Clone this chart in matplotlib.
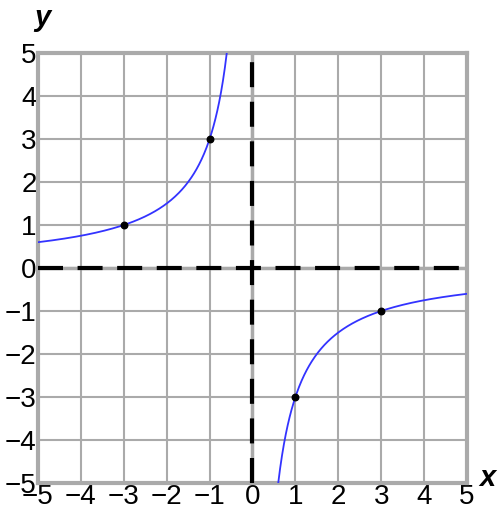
import numpy as np
import matplotlib.pyplot as plt

plt.rcParams['font.family'] = ['Liberation Sans', 'DejaVu Sans']

# function y = k / x, read from the marked points
k = -3
point_x = [-3, -1, 1, 3]
point_y = [1, 3, -3, -1]
ticks = [-5, -4, -3, -2, -1, 0, 1, 2, 3, 4, 5]

fig = plt.figure(figsize=(4.99, 5.20), dpi=100)
ax = fig.add_axes([38 / 499, 1 - 483 / 520, 429 / 499, 430 / 520])

ax.set_xlim(-5, 5)
ax.set_ylim(-5, 5)
ax.set_xticks(ticks)
ax.set_yticks(ticks)
ax.set_xticklabels([str(t).replace('-', '\u2212') for t in ticks])
ax.set_yticklabels([str(t).replace('-', '\u2212') for t in ticks])
ax.tick_params(length=0, labelsize=20, pad=1)
ax.grid(True, color='#aaaaaa', lw=1.5)
ax.set_axisbelow(True)
for s in ax.spines.values():
    s.set_color('#aaaaaa')
    s.set_linewidth(3)

# axes: gray solid under black dashed
ax.axhline(0, color='#aaaaaa', lw=2.5, zorder=2)
ax.axvline(0, color='#aaaaaa', lw=2.5, zorder=2)
ax.axhline(0, color='black', lw=3, dashes=(6, 3.5), zorder=3)
ax.axvline(0, color='black', lw=3, dashes=(6, 3.5), zorder=3)

xl = np.linspace(-5, k / 5, 300)
xr = np.linspace(-k / 5, 5, 300)
ax.plot(xl, k / xl, color='#3333ff', lw=1.3, zorder=4)
ax.plot(xr, k / xr, color='#3333ff', lw=1.3, zorder=4)
ax.scatter(point_x, point_y, s=22, color='black', zorder=5)

fig.text(42 / 499, 1 - 18 / 520, 'y', fontsize=21, fontweight='bold',
         style='italic', ha='center', va='center')
fig.text(487 / 499, 1 - 478 / 520, 'x', fontsize=21, fontweight='bold',
         style='italic', ha='center', va='center')

fig.savefig('out.png', dpi=100)
